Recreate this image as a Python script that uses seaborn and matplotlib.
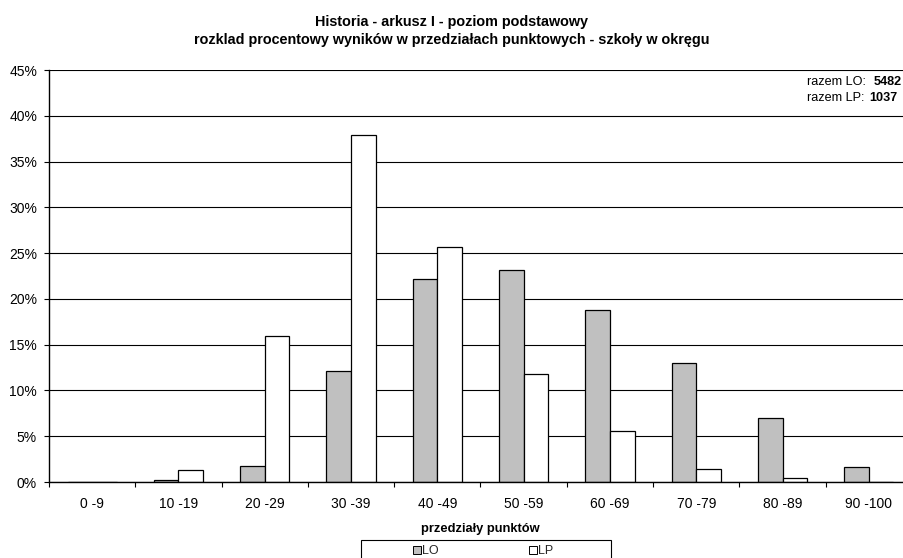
import matplotlib
matplotlib.use("Agg")
import matplotlib.pyplot as plt
import matplotlib.patches as mpatches
from matplotlib.lines import Line2D
from matplotlib.ticker import FuncFormatter, FixedLocator
import seaborn as sns
import pandas as pd

categories = ["0 -9", "10 -19", "20 -29", "30 -39", "40 -49", "50 -59",
              "60 -69", "70 -79", "80 -89", "90 -100"]
lo_values = [0.0, 0.22, 1.75, 12.1, 22.2, 23.2, 18.8, 13.0, 6.96, 1.68]
lp_values = [0.0, 1.36, 15.9, 37.9, 25.7, 11.8, 5.54, 1.46, 0.40, 0.0]
series_names = ["LO", "LP"]
title_lines = ["Historia - arkusz I - poziom podstawowy",
               "rozklad procentowy wyników w przedziałach punktowych - szkoły w okręgu"]
xlabel = "przedziały punktów"
total_lo = 5482
total_lp = 1037

df = pd.DataFrame({
    "cat": categories * 2,
    "val": lo_values + lp_values,
    "series": [series_names[0]] * len(categories) + [series_names[1]] * len(categories),
})

sns.set_theme(style="white")
plt.rcParams["font.family"] = ["Liberation Sans", "DejaVu Sans"]

W, H = 904, 558
fig = plt.figure(figsize=(W / 100, H / 100), dpi=100)
left, right, top, bottom = 49, 912, 70, 482
ax = fig.add_axes([left / W, 1 - bottom / H, (right - left) / W, (bottom - top) / H])

palette = {"LO": "#C0C0C0", "LP": "#FFFFFF"}
sns.barplot(data=df, x="cat", y="val", hue="series", order=categories,
            hue_order=series_names, palette=palette, width=0.57,
            edgecolor="black", linewidth=0.9, ax=ax, legend=False, saturation=1)

ax.set_ylim(0, 45)
ax.set_xlim(-0.5, len(categories) - 0.5)
ax.set_yticks(range(0, 46, 5))
ax.yaxis.set_major_formatter(FuncFormatter(lambda v, p: f"{int(v)}%"))
ax.yaxis.grid(True, color="black", linewidth=0.8)
ax.set_axisbelow(True)
ax.xaxis.grid(False)

for s in ["top", "right"]:
    ax.spines[s].set_visible(False)
for s in ["left", "bottom"]:
    ax.spines[s].set_visible(True)
    ax.spines[s].set_color("black")
    ax.spines[s].set_linewidth(1.0)

ax.tick_params(axis="y", which="major", length=3.6, width=0.8, color="black",
               labelsize=10, labelcolor="black", pad=5, left=True)
ax.tick_params(axis="x", which="major", length=0, labelsize=10, labelcolor="black", pad=10.5)
ax.xaxis.set_minor_locator(FixedLocator([i - 0.5 for i in range(len(categories) + 1)]))
ax.tick_params(axis="x", which="minor", length=3.6, width=0.8, color="black",
               direction="out", bottom=True)

ax.set_xlabel(xlabel, fontsize=9.3, fontweight="bold", color="black", labelpad=9)
ax.set_ylabel("")

fig.text(452 / W, 1 - 22 / H, title_lines[0], ha="center", va="center",
         fontsize=10.4, fontweight="bold", color="black")
fig.text(452 / W, 1 - 40 / H, title_lines[1], ha="center", va="center",
         fontsize=10.4, fontweight="bold", color="black")

fig.text(807 / W, 1 - 82 / H, "razem LO:", ha="left", va="center", fontsize=9.1, color="black")
fig.text(874 / W, 1 - 82 / H, f"{total_lo}", ha="left", va="center", fontsize=9.1,
         fontweight="bold", color="black")
fig.text(807 / W, 1 - 98 / H, "razem LP:", ha="left", va="center", fontsize=9.1, color="black")
fig.text(869 / W, 1 - 98 / H, f"{total_lp}", ha="left", va="center", fontsize=9.1,
         fontweight="bold", color="black")

# legend box
fig.patches.append(mpatches.Rectangle((361 / W, 1 - 566 / H), (611 - 361) / W, 26 / H,
                                      transform=fig.transFigure, facecolor="white",
                                      edgecolor="black", linewidth=0.8))
handles = [Line2D([], [], marker="s", linestyle="", markersize=5.5,
                  markerfacecolor=palette[n], markeredgecolor="black", markeredgewidth=0.7)
           for n in series_names]
fig.legend(handles, series_names, loc="center", bbox_to_anchor=(484 / W, 1 - 551.5 / H),
           ncol=2, frameon=False, fontsize=9, handlelength=0.5, handletextpad=0.15,
           columnspacing=7.3, borderpad=0)

fig.savefig("out.png", dpi=100)
